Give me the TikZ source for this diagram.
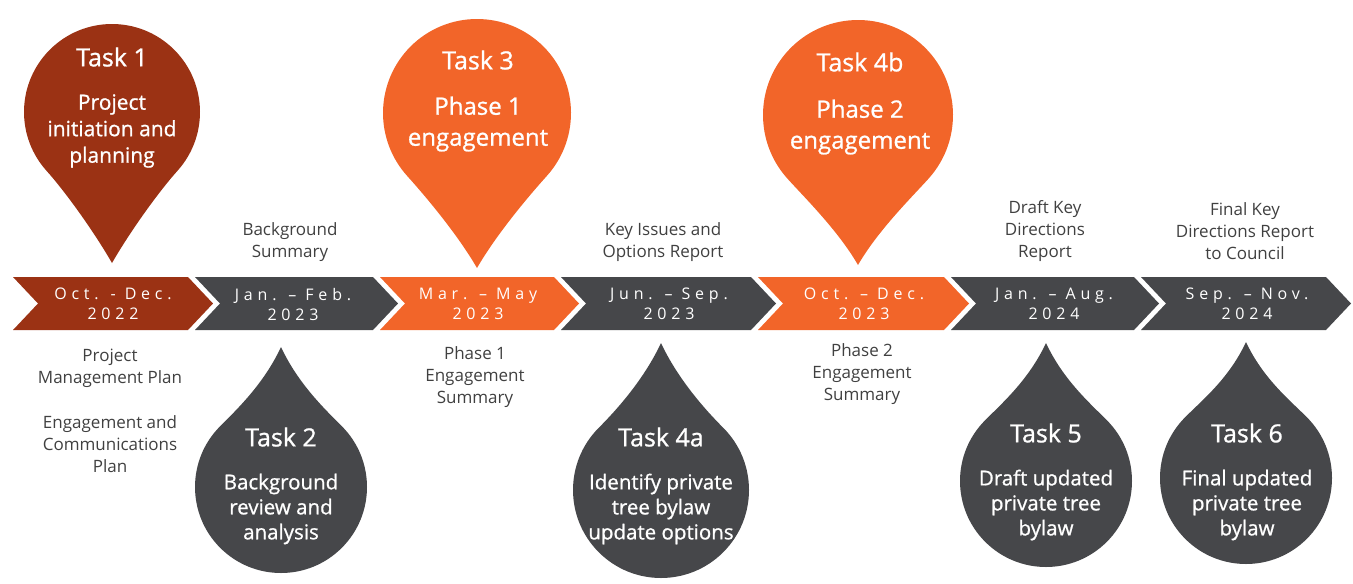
\documentclass[tikz,border=0pt]{standalone}
\usepackage{fontspec}
\setmainfont{Open Sans}
\newfontfamily\datefont[LetterSpace=30]{Open Sans}
\newfontfamily\pinfont[FakeBold=0.9]{Open Sans}
\definecolor{rust}{HTML}{9B3214}
\definecolor{orng}{HTML}{F26529}
\definecolor{slate}{HTML}{46474A}
\definecolor{txt}{HTML}{404040}
% #1 colour, #2 cx, #3 cy, #4 r, #5 tip y, #6 phi, #7 psi, #8 sign (+1 tip down, -1 tip up)
\newcommand\droppath[8]{%
  \fill[#1] ({#2+#4*sin(#6)},{#3+#8*#4*cos(#6)})
    arc[start angle={#8*(90-#6)}, end angle={#8*(-270+#6)}, radius=#4]
    .. controls ({#2-#4*sin(#6)+25*cos(#6)},{#3+#8*#4*cos(#6)+#8*25*sin(#6)})
       and ({#2-40*sin(#7)},{#5-#8*40*cos(#7)}) .. (#2,#5)
    .. controls ({#2+40*sin(#7)},{#5-#8*40*cos(#7)})
       and ({#2+#4*sin(#6)-25*cos(#6)},{#3+#8*#4*cos(#6)+#8*25*sin(#6)}) .. cycle;}
% #1 colour, #2 left x, #3 right x
\newcommand\chev[3]{%
  \fill[#1] (#2,277) -- (#3,277) -- ({#3+25},303.5) -- (#3,330) -- (#2,330) -- ({#2+25},303.5) -- cycle;}
\begin{document}
\begin{tikzpicture}[x=1pt,y=-1pt,
  datetxt/.style={text=white,align=center,inner sep=0pt,font=\datefont\fontsize{16}{20}\selectfont},
  label/.style={text=txt,align=center,inner sep=0pt,font=\fontsize{17}{22}\selectfont},
  ttl/.style={text=white,inner sep=0pt,font=\pinfont\fontsize{25}{30}\selectfont},
  subp/.style={text=white,align=center,inner sep=0pt,font=\pinfont\fontsize{21}{26.5}\selectfont},
  subq/.style={text=white,align=center,inner sep=0pt,font=\pinfont\fontsize{24}{31}\selectfont},
  subd/.style={text=white,align=center,inner sep=0pt,font=\pinfont\fontsize{20.5}{25}\selectfont}]
\useasboundingbox (0,0) rectangle (1353,584);
% chevrons
\chev{rust}{13}{188}
\chev{slate}{195}{373}
\chev{orng}{380}{554}
\chev{slate}{561}{751}
\chev{orng}{758}{944}
\chev{slate}{951}{1134}
\chev{slate}{1141}{1326}
\node[datetxt] (d1) at (113,304) {Oct. - Dec.\\2022};
\node[datetxt] (d2) at (293,304) {Jan. – Feb.\\2023};
\node[datetxt] (d3) at (478,304) {Mar. – May\\2023};
\node[datetxt] (d4) at (669,304) {Jun. – Sep.\\2023};
\node[datetxt] (d5) at (864,304) {Oct. – Dec.\\2023};
\node[datetxt] (d6) at (1054,304) {Jan. – Aug.\\2024};
\node[datetxt] (d7) at (1247,304) {Sep. – Nov.\\2024};
% pins above
\droppath{rust}{112}{112}{88}{263}{48}{30}{1}
\droppath{orng}{477}{113}{94}{268}{48}{30}{1}
\droppath{orng}{858}{115}{95}{265}{48}{30}{1}
\node[ttl] (t1) at (112,57) {Task 1};
\node[subp] (s1) at (112,131) {Project\\initiation and\\planning};
\node[ttl] (t3) at (478,60) {Task 3};
\node[subq] (s3) at (478,124) {Phase 1\\engagement};
\node[ttl] (t4b) at (860,62) {Task 4b};
\node[subq] (s4b) at (860,127) {Phase 2\\engagement};
% drops below
\droppath{slate}{281}{487}{86}{347}{45}{25}{-1}
\droppath{slate}{661}{490}{88}{343}{45}{25}{-1}
\droppath{slate}{1046}{481}{86}{343}{45}{25}{-1}
\droppath{slate}{1246}{478}{86}{342}{45}{25}{-1}
\node[ttl] (t2) at (281,437) {Task 2};
\node[subd] (s2) at (281,509) {Background\\review and\\analysis};
\node[ttl] (t4a) at (661,437) {Task 4a};
\node[subd] (s4a) at (661,509) {Identify private\\tree bylaw\\update options};
\node[ttl] (t5) at (1046,433) {Task 5};
\node[subd] (s5) at (1046,505) {Draft updated\\private tree\\bylaw};
\node[ttl] (t6) at (1247,433) {Task 6};
\node[subd] (s6) at (1247,505) {Final updated\\private tree\\bylaw};
% labels
\node[label] (l2) at (290,242) {Background\\Summary};
\node[label] (l4) at (663,242) {Key Issues and\\Options Report};
\node[label] (l6) at (1045,231) {Draft Key\\Directions\\Report};
\node[label] (l7) at (1245,231) {Final Key\\Directions Report\\to Council};
\node[label] (l1a) at (110,368) {Project\\Management Plan};
\node[label] (l1b) at (110,444) {Engagement and\\Communications\\Plan};
\node[label] (l3) at (475,377) {Phase 1\\Engagement\\Summary};
\node[label] (l5) at (862,374) {Phase 2\\Engagement\\Summary};
\end{tikzpicture}
\end{document}
